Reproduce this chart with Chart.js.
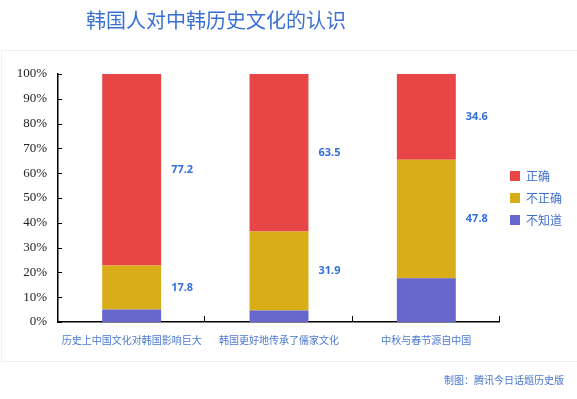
<!DOCTYPE html>
<html>
<head>
<meta charset="utf-8">
<script src="https://cdn.jsdelivr.net/npm/chart.js@4/dist/chart.umd.min.js"></script>
<style>
  body { margin: 0; background: #fff; }
  #wrap { position: relative; width: 577px; height: 399px; font-family: "Noto Sans CJK SC", sans-serif; }
  #frame { position: absolute; left: 1px; top: 50px; width: 576px; height: 312px; border: 1px solid #f0f0f0; border-right: none; box-sizing: border-box; }
  #titulo { position: absolute; left: 0; width: 432px; top: 5px; text-align: center; font-size: 20px; color: #3a70d4; line-height: 30px; }
  #fonte { position: absolute; right: 13px; top: 373px; font-size: 10px; color: #4a78d0; line-height: 14px; }
  canvas { position: absolute; left: 0; top: 0; }
</style>
</head>
<body>
<div id="wrap">
  <div id="frame"></div>
  <canvas id="grafico" width="577" height="399"></canvas>
  <div id="titulo">韩国人对中韩历史文化的认识</div>
  <div id="fonte">制图：腾讯今日话题历史版</div>
</div>
<script>
// categorias e séries (porcentagem)
const categorias = ["历史上中国文化对韩国影响巨大", "韩国更好地传承了儒家文化", "中秋与春节源自中国"];
const correto = [77.2, 63.5, 34.6];
const incorreto = [17.8, 31.9, 47.8];
const naoSabe = [5.0, 4.6, 17.6];
const nomesSeries = ["正确", "不正确", "不知道"];
const marcasY = [0, 10, 20, 30, 40, 50, 60, 70, 80, 90, 100];

const cores = ["#e84546", "#d8ad18", "#6666cc"];

// ticks pequenos para dentro + rótulos de valor
const extras = {
  id: "extras",
  afterDatasetsDraw(chart) {
    const ctx = chart.ctx;
    const y = chart.scales.y;
    const a = chart.chartArea;
    ctx.save();
    ctx.strokeStyle = "#000";
    ctx.lineWidth = 1;
    marcasY.forEach(v => {
      const py = Math.round(y.getPixelForValue(v)) + 0.5;
      ctx.beginPath(); ctx.moveTo(a.left, py); ctx.lineTo(a.left + 4, py); ctx.stroke();
    });
    const passo = (a.right - a.left) / categorias.length;
    for (let i = 1; i <= categorias.length; i++) {
      const px = Math.round(a.left + passo * i) - 0.5;
      ctx.beginPath(); ctx.moveTo(px, a.bottom); ctx.lineTo(px, a.bottom - 6); ctx.stroke();
    }
    // valores ao lado das barras (só 正确 e 不正确)
    ctx.fillStyle = "#3370dc";
    ctx.font = "bold 11px 'Noto Sans', sans-serif";
    ctx.textAlign = "left";
    ctx.textBaseline = "middle";
    chart.data.datasets.forEach((ds, di) => {
      if (ds.label === nomesSeries[2]) return;
      chart.getDatasetMeta(di).data.forEach((bar, i) => {
        const cy = (bar.y + bar.base) / 2;
        ctx.fillText(ds.data[i].toFixed(1), bar.x + bar.width / 2 + 10, cy);
      });
    });
    ctx.restore();
  }
};

new Chart(document.getElementById("grafico"), {
  type: "bar",
  data: {
    labels: categorias,
    // empilha de baixo para cima: 不知道, 不正确, 正确
    datasets: [
      { label: nomesSeries[2], data: naoSabe, backgroundColor: cores[2] },
      { label: nomesSeries[1], data: incorreto, backgroundColor: cores[1] },
      { label: nomesSeries[0], data: correto, backgroundColor: cores[0] }
    ]
  },
  options: {
    responsive: false, animation: false,
    datasets: { bar: { categoryPercentage: 1, barPercentage: 0.4 } },
    layout: { padding: { left: 0, top: 74, right: 5, bottom: 0 } },
    scales: {
      x: {
        stacked: true,
        grid: { display: false, drawTicks: false },
        border: { display: true, color: "#000", width: 1.5 },
        ticks: { padding: 12, maxRotation: 0, autoSkip: false, color: "#4a78d0", font: { size: 10, family: "'Noto Sans CJK SC'" } },
        afterFit: s => { s.height = 77; }
      },
      y: {
        stacked: true, min: 0, max: 100,
        afterBuildTicks: s => { s.ticks = marcasY.map(v => ({ value: v })); },
        grid: { display: false, drawTicks: false },
        border: { display: true, color: "#000", width: 1.5 },
        ticks: { padding: 11, color: "#222", font: { size: 13, family: "'Liberation Serif'" }, callback: v => v + "%" },
        afterFit: s => { s.width = 58; }
      }
    },
    plugins: {
      legend: {
        position: "right",
        fullSize: false,
        reverse: true,
        labels: { boxWidth: 10, boxHeight: 10, padding: 10, color: "#3f6fd0", font: { size: 12, family: "'Noto Sans CJK SC'" } }
      },
      tooltip: { enabled: false }
    }
  },
  plugins: [extras]
});
</script>
</body>
</html>
